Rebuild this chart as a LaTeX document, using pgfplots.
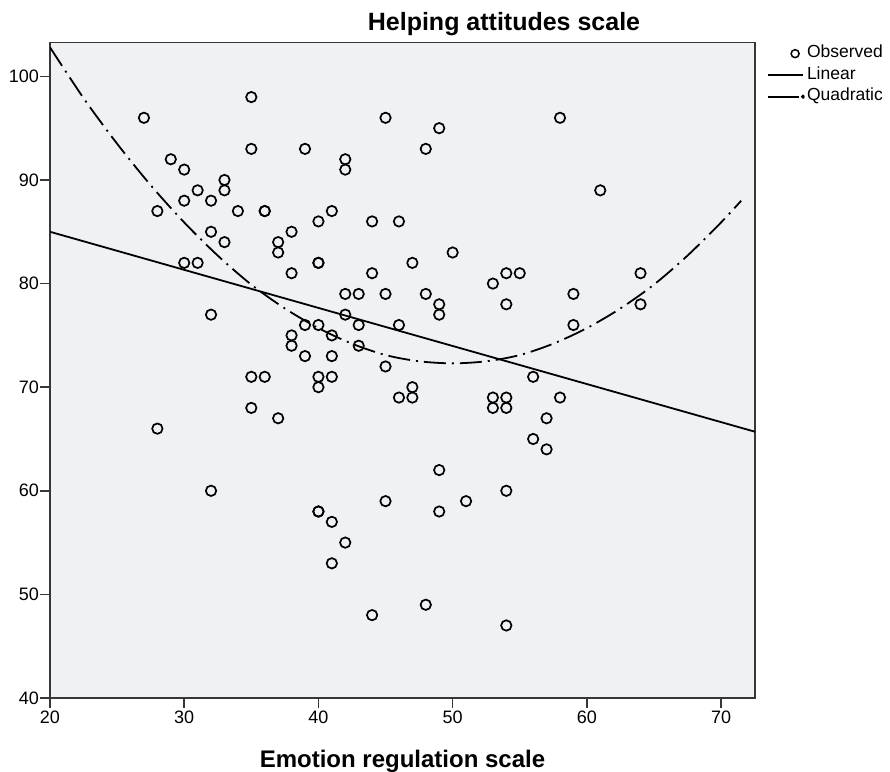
\documentclass[border=0pt]{standalone}
\usepackage{fontspec}
\setmainfont{Liberation Sans}
\usepackage{pgfplots}
\pgfplotsset{compat=1.18}
\definecolor{panel}{RGB}{240,241,243}
\definecolor{frame}{RGB}{55,55,55}

\begin{document}
\begin{tikzpicture}
\useasboundingbox (-50pt,-73pt) rectangle (840pt,698pt);
\begin{axis}[
    scale only axis,
    width=705pt, height=655.3pt,
    xmin=20, xmax=72.53,
    ymin=40, ymax=103.25,
    xtick={20,30,...,70},
    ytick={40,50,...,100},
    axis background/.style={fill=panel},
    axis line style={frame, line width=1.5pt},
    tick style={frame, line width=1.5pt},
    tick align=outside,
    major tick length=10pt,
    xtick pos=bottom, ytick pos=left,
    /pgf/number format/assume math mode=true,
    ticklabel style={font=\fontsize{18}{18}\selectfont},
    yticklabel style={inner sep=1pt},
    xticklabel style={inner sep=3pt},
    xlabel={Emotion regulation scale},
    xlabel style={font=\bfseries\fontsize{24}{24}\selectfont,
        at={(axis description cs:0.5,0)}, anchor=base, yshift=-69pt},
    legend style={draw=none, fill=none, at={(rel axis cs:1,1)},
        anchor=north west, xshift=12pt, yshift=-1pt, inner sep=0pt,
        font=\fontsize{17.5}{17.5}\selectfont, row sep=2pt,
        nodes={inner sep=2pt, text height=12pt, text depth=3.5pt}},
    legend cell align=left,
]

% observed cases
\addplot[only marks, mark=o, mark size=5.2pt,
    mark options={black, line width=1.7pt},
    legend image code/.code={
        \path[draw=none] (0pt,0pt) -- (35pt,0pt);
        \draw[black, solid, line width=1.5pt] (27pt,0pt) circle (4pt);}]
coordinates {
(27,96)(35,98)(35,93)(39,93)(29,92)(30,91)(31,89)(30,88)(32,88)(33,90)
(33,89)(28,87)(34,87)(36,87)(36,87)(32,85)(33,84)(37,84)(37,83)(38,85)
(40,86)(41,87)(30,82)(31,82)(40,82)(40,82)(38,81)(32,77)(39,76)(40,76)
(38,75)(38,74)(41,75)(39,73)(41,73)(42,92)(42,91)(45,96)(49,95)(48,93)
(58,96)(61,89)(44,86)(46,86)(50,83)(47,82)(44,81)(54,81)(55,81)(53,80)
(42,79)(43,79)(45,79)(48,79)(49,78)(49,77)(54,78)(59,79)(59,76)(42,77)
(43,76)(46,76)(43,74)(64,81)(64,78)(35,71)(36,71)(40,71)(41,71)(40,70)
(35,68)(37,67)(28,66)(32,60)(40,58)(40,58)(41,57)(42,55)(41,53)(45,72)
(47,70)(46,69)(47,69)(53,69)(54,69)(53,68)(54,68)(56,71)(58,69)(57,67)
(56,65)(57,64)(49,62)(45,59)(49,58)(51,59)(54,60)(48,49)(44,48)(54,47)
};
\addlegendentry{Observed}

% linear fit
\addplot[black, line width=1.8pt,
    legend image code/.code={
        \draw[black, solid, line width=1.8pt] (0pt,0pt) -- (35pt,0pt);}]
coordinates {(20,85.0)(72.53,65.7)};
\addlegendentry{Linear}

% quadratic fit
\addplot[black, line width=1.8pt, smooth,
    dash pattern=on 22pt off 6pt on 2pt off 6pt,
    legend image code/.code={
        \draw[black, solid, line width=1.8pt] (0pt,0pt) -- (31pt,0pt);
        \fill[black] (35pt,0pt) circle (1pt);}]
coordinates {
(20,102.8)(22.5,97.9)(25,93.5)(27.5,89.5)(30,85.9)(32.5,82.7)(35,79.9)
(37.5,77.6)(40,75.7)(42.5,74.2)(45,73.1)(47.5,72.5)(50,72.3)(52.5,72.5)
(55,73.1)(57.5,74.2)(60,75.7)(62.5,77.6)(65,79.9)(67.5,82.7)(70,85.9)
(71.5,88.0)
};
\addlegendentry{Quadratic}

\end{axis}
\node[anchor=base, font=\bfseries\fontsize{25}{25}\selectfont]
    at (454pt,667pt) {Helping attitudes scale};
\end{tikzpicture}
\end{document}
